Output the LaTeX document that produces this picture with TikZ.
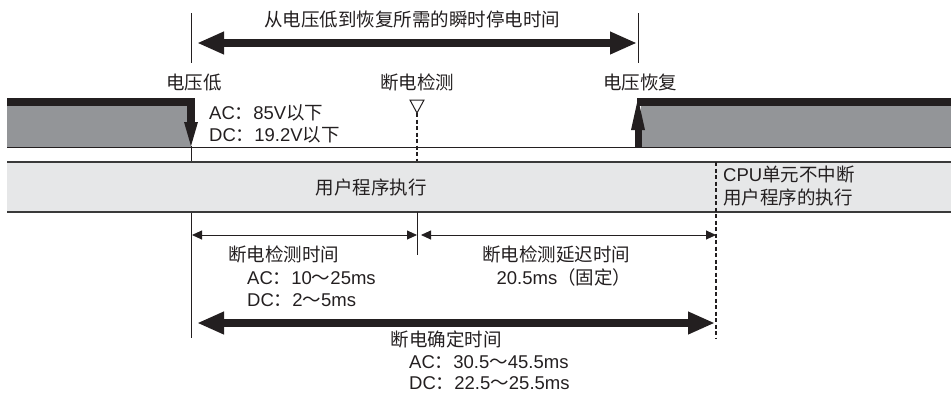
\documentclass[tikz,border=0pt]{standalone}
\usepackage{fontspec}
\setmainfont{Liberation Sans}
\newfontfamily\cjk{Noto Sans CJK SC}
\usetikzlibrary{arrows.meta}
\definecolor{wavegray}{HTML}{939598}
\definecolor{bandgray}{HTML}{E6E7E8}
\definecolor{ink}{HTML}{231F20}
\definecolor{bandline}{HTML}{3A3A3A}
\newcommand{\C}[1]{{\cjk #1}}
\begin{document}
\begin{tikzpicture}[x=1pt,y=-1pt,
  lbl/.style={inner sep=0pt, font=\fontsize{18.5}{22}\selectfont, text=ink, text height=15.5pt, text depth=2pt},
  thinarr/.style={draw=ink, line width=0.9pt, {Triangle[length=10pt,width=9pt]}-{Triangle[length=10pt,width=9pt]}},
  bigarr/.style={draw=ink, line width=7.5pt, {Triangle[length=27pt,width=21pt]}-{Triangle[length=27pt,width=21pt]}},
  guide/.style={draw=ink, line width=1pt},
  dashguide/.style={draw=ink, line width=1.2pt, dash pattern=on 4pt off 2.5pt},
  wave/.style={draw=ink, line width=7.5pt},
]
\useasboundingbox (0,0) rectangle (951,392);

% ---- coordinates
\coordinate (tlA) at (191.5,13);  \coordinate (tlB) at (191.5,63);
\coordinate (trA) at (638,13);    \coordinate (trB) at (638,63);
\coordinate (topL) at (197,43);   \coordinate (topR) at (637,43);
\coordinate (vL1) at (191,146);   \coordinate (vL2) at (191,338);
\coordinate (vM0) at (417,113);   \coordinate (vM1) at (417,162);
\coordinate (vM2) at (417,212);   \coordinate (vM3) at (417,255);
\coordinate (vR1) at (716,162);   \coordinate (vR2) at (716,338);
\coordinate (a1L) at (192,235);   \coordinate (a1R) at (417,235);
\coordinate (a2L) at (421,235);   \coordinate (a2R) at (716,235);
\coordinate (bL) at (197,323);    \coordinate (bR) at (715,323);

% ---- top span
\draw[guide] (tlA) -- (tlB);
\draw[guide] (trA) -- (trB);
\draw[bigarr] (topL) -- (topR);
\node[lbl] (title) at (412,20) {\C{从电压低到恢复所需的瞬时停电时间}};

% ---- event labels
\node[lbl] (low) at (194,83) {\C{电压低}};
\node[lbl] (det) at (417,83) {\C{断电检测}};
\node[lbl] (rec) at (640,83) {\C{电压恢复}};

% ---- voltage waveform
\fill[wavegray] (7,102) rectangle (191,147);
\fill[wavegray] (641,102) rectangle (951,147);
\draw[guide] (vL1) -- (vL2);
\draw[wave, line join=miter] (7,102) -- (191,102) -- (191,124);
\fill[ink] (184,122) -- (198,122) -- (191,146) -- cycle;
\draw[wave] (637,102) -- (951,102);
\draw[draw=ink, line width=7pt] (638,147) -- (638,128);
\fill[ink] (631,130) -- (645,130) -- (638,98.5) -- cycle;
\draw[ink, line width=1pt] (7,147) -- (951,147);

\node[lbl, anchor=west] (ac1) at (209,113) {AC\C{：}85V\C{以下}};
\node[lbl, anchor=west] (dc1) at (209,135) {DC\C{：}19.2V\C{以下}};

% ---- detection marker
\draw[ink, line width=1pt, line join=miter] (410,100) -- (424,100) -- (vM0) -- cycle;
\draw[dashguide] (vM0) -- (vM1);

% ---- program band
\fill[bandgray] (7,162) rectangle (951,212);
\draw[bandline, line width=2pt] (7,162) -- (951,162);
\draw[bandline, line width=2pt] (7,212) -- (951,212);
\draw[guide] (vM2) -- (vM3);
\draw[dashguide] (vR1) -- (vR2);
\node[lbl] (run) at (371,188) {\C{用户程序执行}};
\node[lbl, anchor=west] (cpu1) at (723,175) {CPU\C{单元不中断}};
\node[lbl, anchor=west] (cpu2) at (723,198) {\C{用户程序的执行}};

% ---- timing arrows
\draw[thinarr] (a1L) -- (a1R);
\draw[thinarr] (a2L) -- (a2R);
\node[lbl, anchor=west] (dt) at (228,255) {\C{断电检测时间}};
\node[lbl, anchor=west] (dtac) at (247,278) {AC\C{：}10\C{～}25ms};
\node[lbl, anchor=west] (dtdc) at (247,300) {DC\C{：}2\C{～}5ms};
\node[lbl] (dd) at (556,255) {\C{断电检测延迟时间}};
\node[lbl] (ddv) at (564,278) {20.5ms\C{（固定）}};

\draw[bigarr] (bL) -- (bR);
\node[lbl] (ct) at (446,340) {\C{断电确定时间}};
\node[lbl, anchor=west] (ctac) at (409,362) {AC\C{：}30.5\C{～}45.5ms};
\node[lbl, anchor=west] (ctdc) at (409,383) {DC\C{：}22.5\C{～}25.5ms};
\end{tikzpicture}
\end{document}
